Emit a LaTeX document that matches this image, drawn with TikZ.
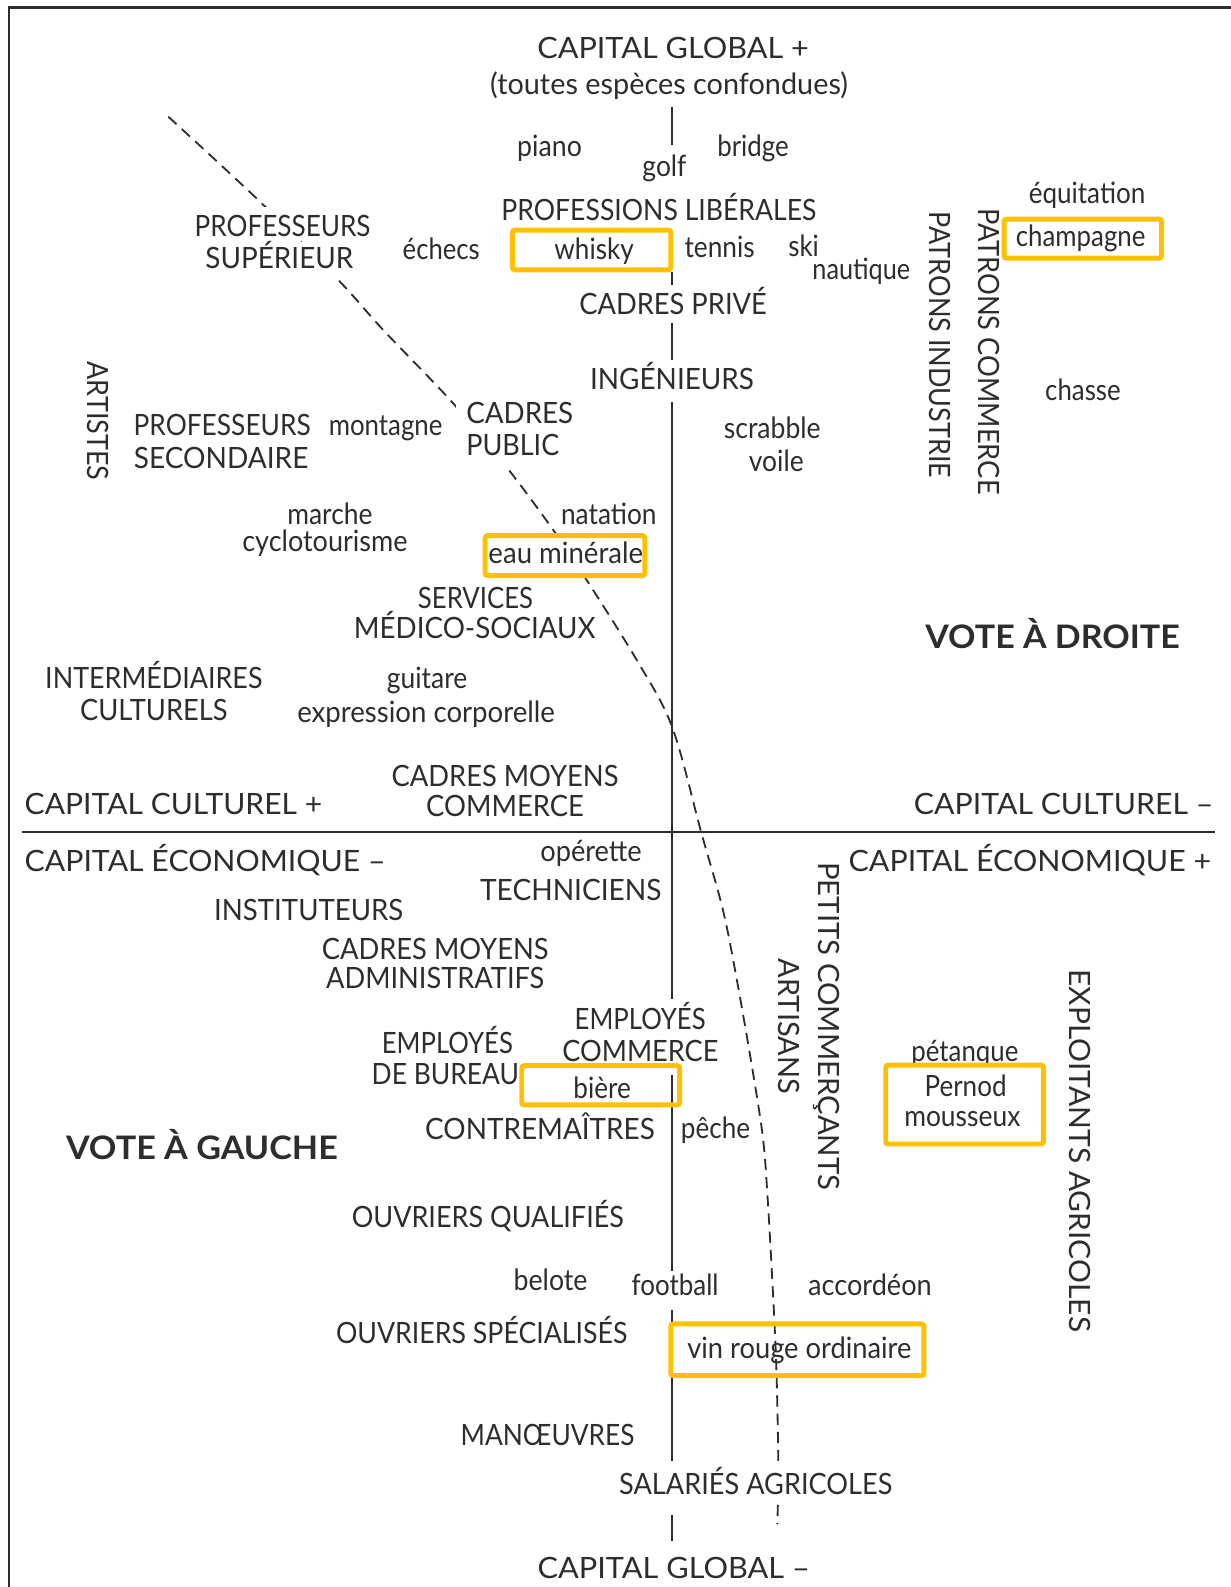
\documentclass[tikz,border=0pt]{standalone}
\usepackage{graphicx}
\usepackage{fontspec}
\setmainfont{Lato}
\newcommand\lbfont{\fontsize{14.5}{17}\selectfont}
\newcommand\votefont{\fontsize{16}{19}\selectfont\bfseries}
\newcommand\sx[2]{\scalebox{#1}[1]{#2}}
\definecolor{ink}{RGB}{45,45,45}
\definecolor{drink}{RGB}{255,192,0}
\begin{document}
\begin{tikzpicture}[x=0.5pt,y=-0.5pt,
  every node/.style={inner sep=0pt, text=ink},
  lbl/.style={anchor=base, font=\lbfont},
  lbll/.style={anchor=base west, font=\lbfont},
  lblr/.style={anchor=base east, font=\lbfont},
  vlbl/.style={anchor=base, rotate=-90, font=\lbfont},
  vote/.style={anchor=base, font=\votefont},
  mask/.style={fill=white},
  drinkbox/.style={draw=drink, line width=2.45pt, rounded corners=1.2pt},
  axisline/.style={draw=ink, line width=1pt},
  divide/.style={draw=ink, line width=0.9pt, dash pattern=on 5.5pt off 3.5pt},
  frameline/.style={draw=ink, line width=1.3pt}]
\useasboundingbox (0,0) rectangle (1216,1568);
% frame
\coordinate (fbl) at (8.9,1570);
\coordinate (ftl) at (8.9,7.2);
\coordinate (ftr) at (1218,7.2);
\draw[frameline] (fbl) -- (ftl) -- (ftr);
% dividing curve
\draw[divide] plot[smooth, tension=0.55] coordinates {(166.3,115.3) (256.8,199.2) (334.2,276.6) (378.6,326) (446.2,396.8) (498.9,459.4) (546.6,523.6) (579.6,573) (629,652) (664,718) (693,823) (714,898) (728,968) (744,1060) (754,1126) (758.5,1185) (763,1264) (767,1350) (769,1449) (768,1506)};
% axes
\coordinate (v1a) at (664.2,105.4); \coordinate (v1b) at (664.2,143.2);
\coordinate (v2a) at (664.2,268.4); \coordinate (v2b) at (664.2,281.5);
\coordinate (v3a) at (664.2,319);   \coordinate (v3b) at (664.2,355.6);
\coordinate (v4a) at (664.2,396.8); \coordinate (v4b) at (664.2,987);
\coordinate (v5a) at (664.2,1062);  \coordinate (v5b) at (664.2,1256);
\coordinate (v6a) at (664.4,1294);  \coordinate (v6b) at (664.4,1449);
\coordinate (v7a) at (664.4,1496.6);\coordinate (v7b) at (664.4,1523);
\draw[axisline] (v1a) -- (v1b) (v2a) -- (v2b) (v3a) -- (v3b) (v4a) -- (v4b)
  (v5a) -- (v5b) (v6a) -- (v6b) (v7a) -- (v7b);
\coordinate (h1) at (22,822); \coordinate (h2) at (1200,822);
\draw[axisline] (h1) -- (h2);
% top
\node[lbl] (cgplus) at (665,57.6) {\sx{1.043}{CAPITAL GLOBAL +}};
\node[lbl] (toutes) at (661,93.8) {\sx{0.983}{(toutes espèces confondues)}};
\node[lbl] (piano) at (543,154.8) {\sx{0.91}{piano}};
\node[lbl] (golf) at (656.5,174.5) {\sx{0.9}{golf}};
\node[lbl] (bridge) at (744,154.8) {\sx{0.88}{bridge}};
\node[lbl] (proflib) at (651,218) {\sx{0.906}{PROFESSIONS LIBÉRALES}};
\node[lbl, mask, inner ysep=0.5pt, inner xsep=1pt, text height=14pt, text depth=0.5pt] (profsup1) at (279.2,233.8) {\sx{0.89}{PROFESSEURS}};
\node[lbl, mask, inner ysep=0.5pt, inner xsep=1pt, text height=12.5pt, text depth=4pt] (profsup2) at (276,265) {\sx{0.95}{SUPÉRIEUR}};
\node[lbl] (echecs) at (436,256.5) {\sx{0.875}{échecs}};
\node[drinkbox, minimum width=78.2pt, minimum height=19.65pt] (whiskybox) at (584.5,246.95) {};
\node[lbl] (whisky) at (587,256) {\sx{0.89}{whisky}};
\node[lbl] (tennis) at (711,254) {\sx{0.895}{tennis}};
\node[lbl] (ski) at (794,253.5) {\sx{0.88}{ski}};
\node[lbl] (nautique) at (851,276.6) {\sx{0.86}{nautique}};
\node[lbl] (cadpriv) at (665,311) {\sx{0.93}{CADRES PRIVÉ}};
\node[lbl] (equit) at (1074,201.5) {\sx{0.887}{équitation}};
\node[drinkbox, minimum width=77.85pt, minimum height=19.25pt] (champbox) at (1069.9,235.75) {};
\node[lbl] (champ) at (1067.7,243.7) {\sx{0.88}{champagne}};
\node[vlbl] (patind) at (918.7,340.8) {\sx{0.92}{PATRONS INDUSTRIE}};
\node[vlbl] (patcom) at (966.4,347.4) {\sx{0.93}{PATRONS COMMERCE}};
\node[lbl] (chasse) at (1070,395.5) {\sx{0.88}{chasse}};
\node[lbl] (ingen) at (664,384.6) {\sx{0.95}{INGÉNIEURS}};
\node[vlbl] (artistes) at (86.5,416) {\sx{0.92}{ARTISTES}};
\node[lbl] (profsec1) at (219.5,430.7) {\sx{0.896}{PROFESSEURS}};
\node[lbl] (profsec2) at (218.5,462.6) {\sx{0.955}{SECONDAIRE}};
\node[lbl] (montagne) at (381,430.7) {\sx{0.88}{montagne}};
\node[lbll, mask, inner sep=5pt] (cadpub1) at (450.3,418.8) {\sx{0.946}{CADRES}};
\node[lbll, mask, inner sep=5pt] (cadpub2) at (450.3,450.5) {\sx{0.92}{PUBLIC}};
\node[lbl] (scrabble) at (763,433) {\sx{0.905}{scrabble}};
\node[lbl] (voile) at (767,466) {\sx{0.9}{voile}};
\node[lbl] (marche) at (326,518.6) {\sx{0.9}{marche}};
\node[lbl] (cyclo) at (321,545) {\sx{0.92}{cyclotourisme}};
\node[lbl] (natation) at (601.5,518.6) {\sx{0.894}{natation}};
\node[drinkbox, fill=white, minimum width=78.85pt, minimum height=19.75pt] (eaubox) at (558.2,549) {};
\node[lbl] (eau) at (559,556.5) {\sx{0.94}{eau minérale}};
\node[lbl] (services) at (469.8,601) {\sx{0.876}{SERVICES}};
\node[lbl] (medico) at (469,630.6) {\sx{0.945}{MÉDICO-SOCIAUX}};
\node[vote] (droite) at (1040,641) {\sx{1.05}{VOTE À DROITE}};
\node[lbl] (interm1) at (152,680) {\sx{0.915}{INTERMÉDIAIRES}};
\node[lbl] (interm2) at (152,712) {\sx{0.93}{CULTURELS}};
\node[lbl] (guitare) at (422,680.5) {\sx{0.9}{guitare}};
\node[lbl] (expr) at (421,713.5) {\sx{0.94}{expression corporelle}};
\node[lbl] (cmc1) at (499,777) {\sx{0.93}{CADRES MOYENS}};
\node[lbl] (cmc2) at (499,807) {\sx{0.934}{COMMERCE}};
\node[lbll] (culplus) at (24,805) {\sx{1.024}{CAPITAL CULTUREL +}};
\node[lblr] (culmoins) at (1199,805) {\sx{1.03}{CAPITAL CULTUREL –}};
\node[lbll] (ecomoins) at (24,861) {\sx{1.03}{CAPITAL ÉCONOMIQUE –}};
\node[lblr] (ecoplus) at (1197,861) {\sx{1.035}{CAPITAL ÉCONOMIQUE +}};
% bottom half
\node[lbl] (operette) at (584,851.5) {\sx{0.926}{opérette}};
\node[lbl] (techn) at (564,890) {\sx{0.957}{TECHNICIENS}};
\node[lbl] (instit) at (305,909) {\sx{0.94}{INSTITUTEURS}};
\node[lbl] (cma1) at (430,948) {\sx{0.93}{CADRES MOYENS}};
\node[lbl] (cma2) at (430,977) {\sx{0.927}{ADMINISTRATIFS}};
\node[vlbl] (petits) at (808.4,1014) {PETITS COMMERÇANTS};
\node[vlbl] (artisans) at (768.9,1014) {\sx{0.985}{ARTISANS}};
\node[vlbl] (exploit) at (1057,1137) {\sx{1.02}{EXPLOITANTS AGRICOLES}};
\node[lbl] (empcom1) at (632.5,1016.8) {\sx{0.877}{EMPLOYÉS}};
\node[lbl] (empcom2) at (632.7,1048.8) {\sx{0.924}{COMMERCE}};
\node[lbl] (empbur1) at (442,1041.2) {\sx{0.877}{EMPLOYÉS}};
\node[lbl] (empbur2) at (440,1071.8) {\sx{0.9}{DE BUREAU}};
\node[drinkbox, minimum width=78pt, minimum height=19.4pt] (bierebox) at (593.5,1072.3) {};
\node[lbl] (biere) at (595,1085) {\sx{0.89}{bière}};
\node[lbl] (petanque) at (953.3,1048.8) {\sx{0.88}{pétanque}};
\node[drinkbox, minimum width=77.85pt, minimum height=39pt] (pernodbox) at (953,1091.3) {};
\node[lbl] (pernod) at (954,1083.3) {\sx{0.887}{Pernod}};
\node[lbl] (mousseux) at (950.8,1113) {\sx{0.9}{mousseux}};
\node[vote] (gauche) at (199.5,1146) {\sx{1.055}{VOTE À GAUCHE}};
\node[lbl] (contre) at (533.5,1125.5) {\sx{0.95}{CONTREMAÎTRES}};
\node[lbl] (peche) at (707,1124.5) {\sx{0.89}{pêche}};
\node[lbl] (ouvq) at (482,1213) {\sx{0.92}{OUVRIERS QUALIFIÉS}};
\node[lbl] (belote) at (544,1275.5) {\sx{0.91}{belote}};
\node[lbl] (football) at (667,1280.3) {\sx{0.885}{football}};
\node[lbl] (accord) at (859.5,1280.3) {\sx{0.924}{accordéon}};
\node[lbl] (ouvs) at (476,1327.7) {\sx{0.91}{OUVRIERS SPÉCIALISÉS}};
\node[drinkbox, minimum width=125.1pt, minimum height=25.5pt] (vinbox) at (787.8,1333.6) {};
\node[lbl] (vin) at (789.8,1341.8) {\sx{0.93}{vin rouge ordinaire}};
\node[lbl] (manoeuvres) at (541,1428) {\sx{0.895}{MANŒUVRES}};
\node[lbl, mask, inner ysep=3pt] (salaries) at (746.7,1476.8) {\sx{0.925}{SALARIÉS AGRICOLES}};
\node[lbl] (cgmoins) at (665.6,1559.5) {\sx{1.046}{CAPITAL GLOBAL –}};
\end{tikzpicture}
\end{document}
